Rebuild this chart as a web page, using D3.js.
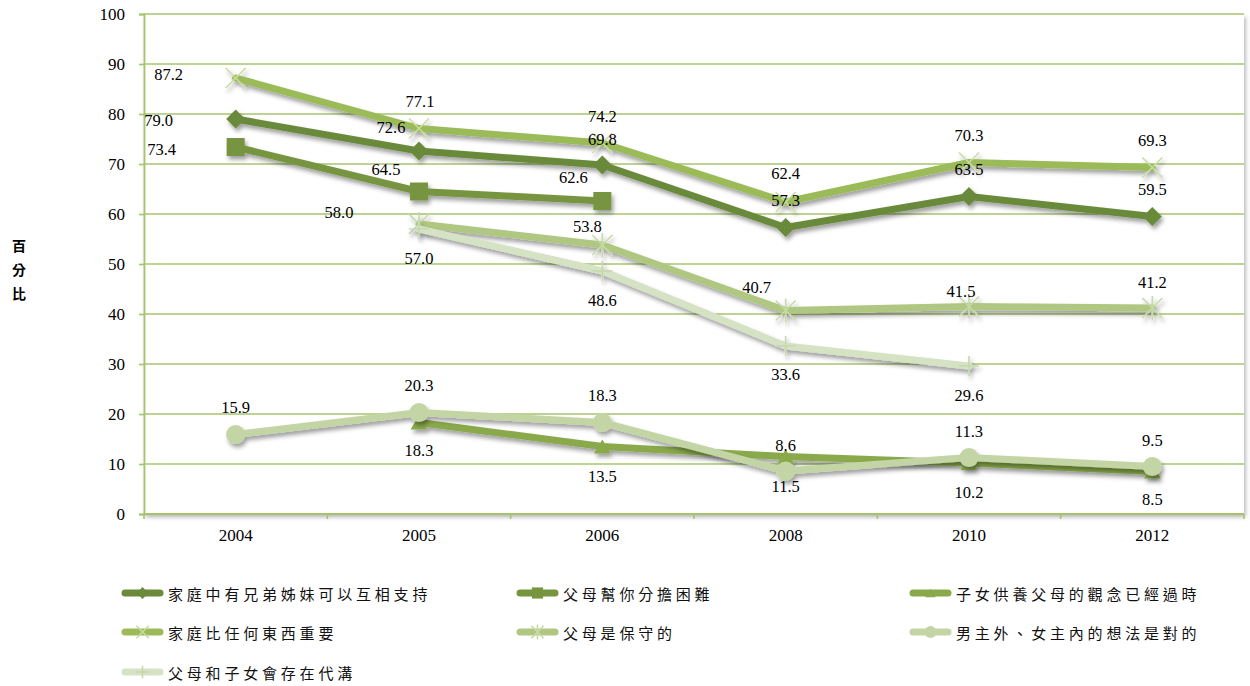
<!DOCTYPE html>
<html>
<head>
<meta charset="utf-8">
<script src="https://cdn.jsdelivr.net/npm/d3@7/dist/d3.min.js"></script>
<style>
  html, body { margin: 0; padding: 0; background: #fff; }
  svg { display: block; }
</style>
</head>
<body>
<svg id="chart" width="1250" height="686"></svg>
<script>
// ---------- data ----------
const years = ["2004", "2005", "2006", "2008", "2010", "2012"];
const yTicks = [0, 10, 20, 30, 40, 50, 60, 70, 80, 90, 100];
const yTitle = ["百", "分", "比"];

const seriesNames = [
  "家庭中有兄弟姊妹可以互相支持",
  "父母幫你分擔困難",
  "子女供養父母的觀念已經過時",
  "家庭比任何東西重要",
  "父母是保守的",
  "男主外、女主內的想法是對的",
  "父母和子女會存在代溝"
];

// null = no data for that year
const siblingsSupport  = [79.0, 72.6, 69.8, 57.3, 63.5, 59.5];
const parentsHelp      = [73.4, 64.5, 62.6, null, null, null];
const supportOutdated  = [null, 18.3, 13.5, 11.5, 10.2, 8.5];
const familyFirst      = [87.2, 77.1, 74.2, 62.4, 70.3, 69.3];
const parentsConserv   = [null, 58.0, 53.8, 40.7, 41.5, 41.2];
const genderRoles      = [15.9, 20.3, 18.3, 8.6, 11.3, 9.5];
const generationGap    = [null, 57.0, 48.6, 33.6, 29.6, null];

const seriesValues = [siblingsSupport, parentsHelp, supportOutdated, familyFirst,
                      parentsConserv, genderRoles, generationGap];

// ---------- styling / label placement (kept apart from data) ----------
const lineColors   = ["#6b8a3a", "#77953f", "#89a94c", "#9bbb59", "#afc781", "#c3d5a5", "#d5e2c3"];
const markerColors = ["#6b8a3a", "#77953f", "#89a94c", "#c9dca2", "#c6d9a6", "#c3d5a5", "#c6d7ae"];
const markerTypes  = ["diamond", "square", "triangle", "x", "star", "circle", "plus"];

const A = [0, -27], B = [0, 29];
const labelOffsets = [
  [[-77, 1], [-28, -24], [0, -26], [0, -27], [0, -27], [0, -27]],
  [[-74, 2], [-33, -22], [-29, -24], null, null, null],
  [null, [0, 28], [0, 30], [0, 30], [0, 29], [0, 28]],
  [[-67, -4], [1, -27], [0, -27], [0, -29], [0, -27], [0, -27]],
  [null, [-80, -12], [-15, -19], [-29, -23], [-8, -15], [0, -26]],
  [A, A, A, [0, -26], [0, -26], [0, -26]],
  [null, B, B, [0, 28], B, null]
];

// ---------- layout ----------
const svg = d3.select("#chart");
const pLeft = 144, pRight = 1244, pTop = 14, pBottom = 514;

const x = d3.scaleBand().domain(years).range([pLeft, pRight]).paddingInner(0).paddingOuter(0);
const y = d3.scaleLinear().domain([0, 100]).range([pBottom, pTop]);
const cx = d => x(d) + x.bandwidth() / 2;

const defs = svg.append("defs");
const f = defs.append("filter").attr("id", "shadow")
  .attr("x", "-10%").attr("y", "-10%").attr("width", "130%").attr("height", "140%");
f.append("feDropShadow").attr("dx", 2).attr("dy", 3.5).attr("stdDeviation", 2.2)
  .attr("flood-color", "#000").attr("flood-opacity", 0.38);
const f2 = defs.append("filter").attr("id", "areaShadow")
  .attr("x", "-2%").attr("y", "-2%").attr("width", "104%").attr("height", "106%");
f2.append("feDropShadow").attr("dx", 1.5).attr("dy", 3).attr("stdDeviation", 2)
  .attr("flood-color", "#000").attr("flood-opacity", 0.3);

// plot area with soft shadow on right/bottom
svg.append("rect").attr("x", pLeft).attr("y", pTop)
  .attr("width", pRight - pLeft).attr("height", pBottom - pTop)
  .attr("fill", "#fff").attr("filter", "url(#areaShadow)");

const gridColor = "#a6c46c";

// gridlines
svg.append("g").selectAll("line").data(yTicks.filter(t => t > 0)).join("line")
  .attr("x1", pLeft).attr("x2", pRight)
  .attr("y1", d => y(d)).attr("y2", d => y(d))
  .attr("stroke", gridColor).attr("stroke-width", 1.6);

// y axis
const yAxis = svg.append("g").attr("transform", `translate(${pLeft},0)`)
  .call(d3.axisLeft(y).tickValues(yTicks).tickSize(5).tickPadding(14).tickFormat(d3.format("d")));
yAxis.select(".domain").attr("stroke", gridColor).attr("stroke-width", 1.8);
yAxis.selectAll(".tick line").attr("stroke", gridColor).attr("stroke-width", 1.6);
yAxis.selectAll("text").attr("font-family", "'Liberation Serif', 'Times New Roman', serif")
  .attr("font-size", 17).attr("fill", "#000");

// x axis line + boundary ticks
svg.append("line").attr("x1", pLeft).attr("x2", pRight).attr("y1", pBottom).attr("y2", pBottom)
  .attr("stroke", gridColor).attr("stroke-width", 1.8);
const boundaries = years.map(d => x(d)).concat([pRight]);
svg.append("g").selectAll("line").data(boundaries).join("line")
  .attr("x1", d => d).attr("x2", d => d).attr("y1", pBottom).attr("y2", pBottom + 5)
  .attr("stroke", gridColor).attr("stroke-width", 1.6);
const xAxis = svg.append("g").attr("transform", `translate(0,${pBottom})`)
  .call(d3.axisBottom(x).tickSize(0).tickPadding(15));
xAxis.select(".domain").remove();
xAxis.selectAll("text").attr("font-family", "'Liberation Serif', 'Times New Roman', serif")
  .attr("font-size", 17).attr("fill", "#000");

// y title
svg.append("g").selectAll("text").data(yTitle).join("text")
  .attr("x", 19).attr("y", (d, i) => 245 + i * 24)
  .attr("text-anchor", "middle").attr("dominant-baseline", "central")
  .attr("font-family", "'Noto Sans CJK TC', sans-serif").attr("font-weight", "bold")
  .attr("font-size", 14).attr("fill", "#000").text(d => d);

// ---------- markers ----------
function drawMarker(g, type, color, s) {
  if (type === "diamond") {
    g.append("path").attr("d", d3.line()([[0, -9.5 * s], [9.5 * s, 0], [0, 9.5 * s], [-9.5 * s, 0]]) + "Z")
      .attr("fill", color);
  } else if (type === "square") {
    g.append("rect").attr("x", -9 * s).attr("y", -9 * s).attr("width", 18 * s).attr("height", 18 * s)
      .attr("fill", color);
  } else if (type === "triangle") {
    g.append("path").attr("d", d3.line()([[0, -7 * s], [8.5 * s, 7 * s], [-8.5 * s, 7 * s]]) + "Z")
      .attr("fill", color);
  } else if (type === "circle") {
    g.append("circle").attr("r", 9.5 * s).attr("fill", color);
  } else if (type === "x") {
    const r = 10 * s;
    g.append("path").attr("d", `M${-r},${-r}L${r},${r}M${-r},${r}L${r},${-r}`)
      .attr("stroke", color).attr("stroke-width", 1.6).attr("fill", "none");
  } else if (type === "star") {
    const r = 10 * s;
    g.append("path").attr("d", `M${-r},${-r}L${r},${r}M${-r},${r}L${r},${-r}M0,${-r * 1.2}L0,${r * 1.2}`)
      .attr("stroke", color).attr("stroke-width", 1.6).attr("fill", "none");
  } else if (type === "plus") {
    const r = 10 * s;
    g.append("path").attr("d", `M0,${-r}L0,${r}M${-r},0L${r},0`)
      .attr("stroke", color).attr("stroke-width", 1.6).attr("fill", "none");
  }
}

// ---------- series ----------
const line = d3.line().defined(d => d.v != null).x(d => cx(d.year)).y(d => y(d.v));
const seriesLayer = svg.append("g");
seriesValues.forEach((vals, si) => {
  const pts = years.map((yr, i) => ({ year: yr, v: vals[i] }));
  const g = seriesLayer.append("g").attr("filter", "url(#shadow)");
  g.append("path").datum(pts).attr("d", line)
    .attr("fill", "none").attr("stroke", lineColors[si]).attr("stroke-width", 7)
    .attr("stroke-linejoin", "round").attr("stroke-linecap", "round");
  pts.filter(p => p.v != null).forEach(p => {
    const mg = g.append("g").attr("transform", `translate(${cx(p.year)},${y(p.v)})`);
    drawMarker(mg, markerTypes[si], markerColors[si], 1);
  });
});

// ---------- data labels ----------
const labelLayer = svg.append("g");
seriesValues.forEach((vals, si) => {
  years.forEach((yr, i) => {
    if (vals[i] == null) return;
    const off = labelOffsets[si][i] || A;
    labelLayer.append("text")
      .attr("x", cx(yr) + off[0]).attr("y", y(vals[i]) + off[1])
      .attr("text-anchor", "middle").attr("dominant-baseline", "central")
      .attr("font-family", "'Liberation Serif', 'Times New Roman', serif")
      .attr("font-size", 16.5).attr("fill", "#000")
      .text(d3.format(".1f")(vals[i]));
  });
});

// ---------- legend ----------
const legendCols = [122, 517, 910];
const legendRows = [593, 632, 672];
const legend = svg.append("g");
seriesNames.forEach((name, si) => {
  const col = si % 3, row = Math.floor(si / 3);
  const lx = legendCols[col], ly = legendRows[row];
  const g = legend.append("g").attr("transform", `translate(${lx},${ly})`);
  g.append("line").attr("x1", 3).attr("x2", 38).attr("y1", 0).attr("y2", 0)
    .attr("stroke", lineColors[si]).attr("stroke-width", 7).attr("stroke-linecap", "round");
  const mg = g.append("g").attr("transform", "translate(20.5,0)");
  drawMarker(mg, markerTypes[si], markerColors[si], 0.62);
  g.append("text").attr("x", 46).attr("y", 0)
    .attr("dominant-baseline", "central")
    .attr("font-family", "'Noto Sans CJK TC', sans-serif")
    .attr("font-size", 15).attr("letter-spacing", 3.8).attr("fill", "#111")
    .text(name);
});
</script>
</body>
</html>
